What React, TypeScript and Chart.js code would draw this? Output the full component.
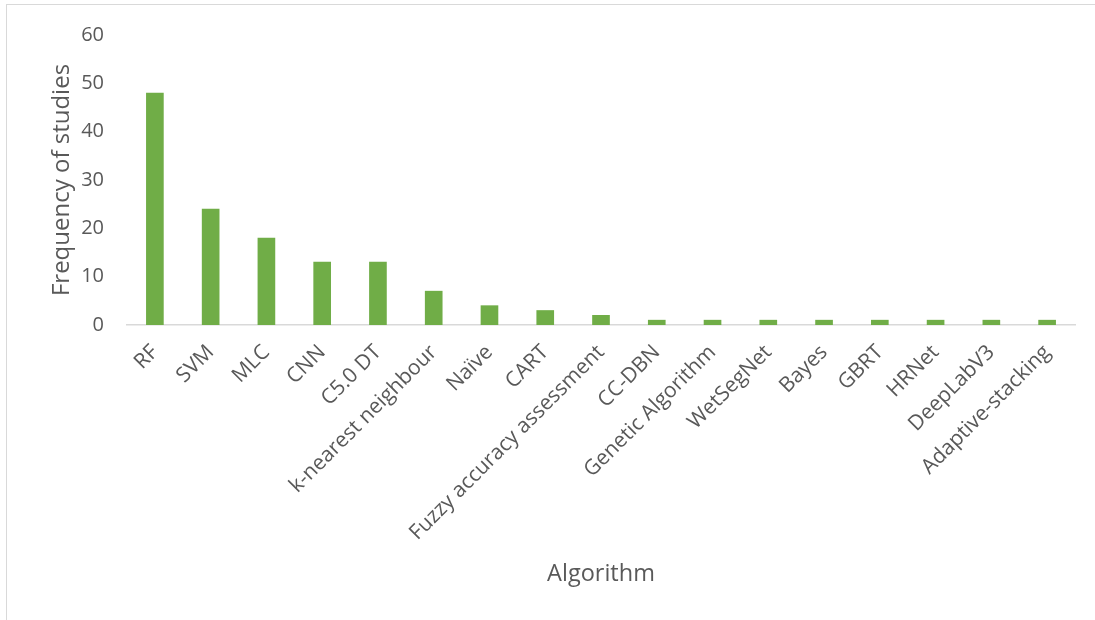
import React, { useEffect, useRef } from "react";
import { Chart, registerables } from "chart.js";

Chart.register(...registerables);

const categories = [
  "RF", "SVM", "MLC", "CNN", "C5.0 DT", "k-nearest neighbour", "Naïve", "CART",
  "Fuzzy accuracy assessment", "CC-DBN", "Genetic Algorithm", "WetSegNet", "Bayes",
  "GBRT", "HRNet", "DeepLabV3", "Adaptive-stacking",
];
const frequencies = [48, 24, 18, 13, 13, 7, 4, 3, 2, 1, 1, 1, 1, 1, 1, 1, 1];
const yTitle = "Frequency of studies";
const xTitle = "Algorithm";

const FONT = "'Open Sans', sans-serif";
const TEXT = "#595959";

export default function App() {
  const ref = useRef<HTMLCanvasElement | null>(null);
  useEffect(() => {
    if (!ref.current) return;
    const chart = new Chart(ref.current, {
      type: "bar",
      data: {
        labels: categories,
        datasets: [
          {
            data: frequencies,
            backgroundColor: "#70AD47",
            barThickness: 17,
          },
        ],
      },
      options: {
        animation: false,
        responsive: false,
        maintainAspectRatio: false,
        layout: { padding: { left: 44, right: 20, top: 24, bottom: 28 } },
        plugins: { legend: { display: false }, tooltip: { enabled: false } },
        scales: {
          x: {
            grid: { display: false, drawTicks: false },
            border: { display: true, color: "#d9d9d9", width: 1.5 },
            afterFit: (s: any) => {
              s.height = 267;
            },
            ticks: {
              color: TEXT,
              font: { family: FONT, size: 21 },
              minRotation: 45,
              maxRotation: 45,
              autoSkip: false,
              padding: 15,
            },
            title: {
              display: true,
              text: xTitle,
              color: TEXT,
              font: { family: FONT, size: 23.5 },
              padding: { top: 26, bottom: 4 },
            },
          },
          y: {
            min: 0,
            max: 60,
            grid: { display: false, drawTicks: false },
            border: { display: false },
            afterFit: (s: any) => {
              s.width = 83;
            },
            ticks: {
              stepSize: 10,
              color: TEXT,
              font: { family: FONT, size: 20 },
              padding: 23,
            },
            title: {
              display: true,
              text: yTitle,
              color: TEXT,
              font: { family: FONT, size: 24 },
              padding: { top: 4, bottom: 12 },
            },
          },
        },
      },
    });
    return () => chart.destroy();
  }, []);
  return (
    <div style={{ position: "fixed", left: 0, top: 0, width: 1095, height: 620, background: "#fff" }}>
      <div
        style={{
          position: "absolute",
          left: 6,
          top: 4,
          right: 0,
          bottom: 0,
          borderLeft: "1.5px solid #d9d9d9",
          borderTop: "1.5px solid #d9d9d9",
        }}
      />
      <canvas ref={ref} width={1095} height={620} style={{ position: "absolute", left: 0, top: 0 }} />
    </div>
  );
}
